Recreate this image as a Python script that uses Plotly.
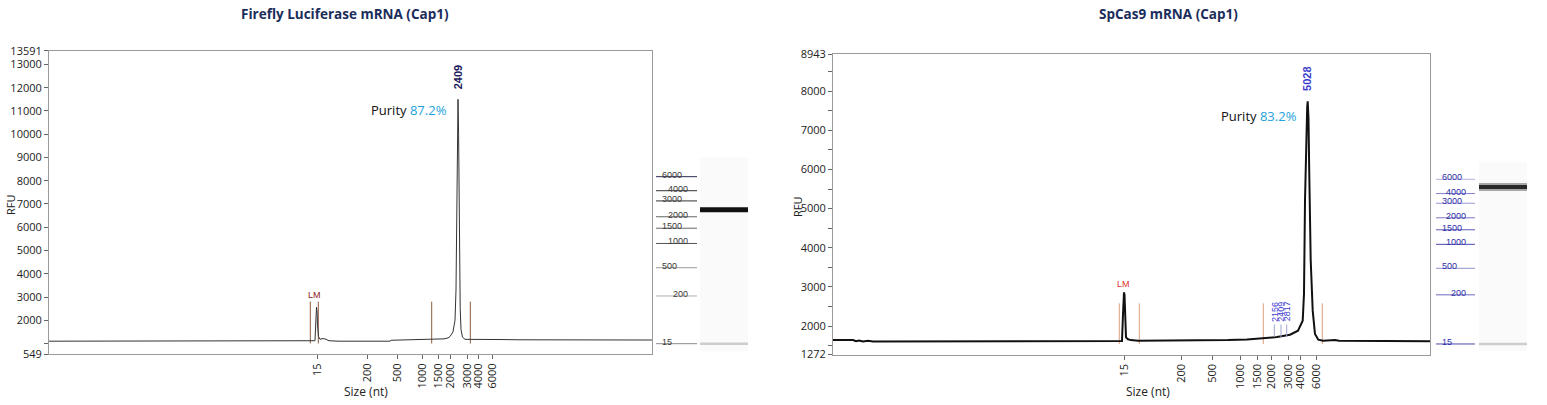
import plotly.graph_objects as go

W, H = 1547, 405

# ---------------- data: Firefly Luciferase mRNA (Cap1) ----------------
fl_title = "Firefly Luciferase mRNA (Cap1)"
fl_ladder_sizes = [15, 200, 500, 1000, 1500, 2000, 3000, 4000, 6000]
fl_ladder_times = [26.87, 31.87, 34.83, 37.37, 38.97, 40.17, 41.83, 42.90, 44.37]
fl_time = [0.0, 26.2, 26.6, 26.7, 26.75, 26.8, 26.85, 26.95, 27.1, 27.3, 27.6, 28.0, 29.0,
           34.1, 34.2, 37.0, 39.0, 39.5, 39.9, 40.1, 40.4, 40.6, 40.7, 40.78, 40.85, 40.9,
           40.96, 41.0, 41.05, 41.12, 41.2, 41.35, 41.6, 42.5, 45.4, 47.0, 60.3]
fl_rfu = [1100, 1100, 1120, 2100, 2560, 2400, 1800, 1300, 1180, 1210, 1200, 1120, 1100,
          1100, 1140, 1170, 1190, 1200, 1240, 1300, 1500, 2000, 3300, 6000, 9500, 11500,
          10000, 7500, 4500, 2500, 1600, 1270, 1180, 1170, 1170, 1160, 1150]
fl_marker_times = [26.13, 26.93, 38.27, 42.13]
fl_peak_label = "2409"
fl_purity = "87.2%"
fl_yticks = [549, 1000, 2000, 3000, 4000, 5000, 6000, 7000, 8000, 9000, 10000, 11000, 12000, 13000, 13591]
fl_ylabels = ["549", "", "2000", "3000", "4000", "5000", "6000", "7000", "8000", "9000",
              "10000", "11000", "12000", "13000", "13591"]

# ---------------- data: SpCas9 mRNA (Cap1) ----------------
cas_title = "SpCas9 mRNA (Cap1)"
cas_ladder_sizes = [15, 200, 500, 1000, 1500, 2000, 3000, 4000, 6000]
cas_ladder_times = [29.13, 34.87, 37.97, 40.77, 42.47, 43.87, 45.57, 46.70, 48.37]
cas_time = [0.0, 2.0, 2.3, 2.6, 3.0, 3.5, 4.0, 10.0, 28.8, 28.9, 29.0, 29.05, 29.1, 29.15,
            29.2, 29.3, 29.5, 29.8, 30.5, 39.2, 39.5, 41.4, 43.0, 44.4, 45.7, 46.5, 46.97,
            47.1, 47.2, 47.3, 47.35, 47.42, 47.47, 47.55, 47.62, 47.7, 47.77, 47.97, 48.2,
            48.53, 49.0, 50.2, 50.6, 59.7]
cas_rfu = [1645, 1640, 1610, 1630, 1605, 1625, 1605, 1605, 1610, 1620, 2300, 2650, 2860, 2800,
           2300, 1710, 1660, 1640, 1622, 1625, 1640, 1655, 1680, 1717, 1777, 1880, 2136,
           2822, 5200, 6800, 7100, 7600, 7744, 7300, 6000, 4600, 3678, 2393, 1795,
           1650, 1625, 1640, 1625, 1610]
cas_marker_times = [28.63, 30.63, 43.03, 48.93]
cas_small_times = [44.13, 44.80, 45.37]
cas_small_labels = ["2156", "2409", "2817"]
cas_peak_label = "5028"
cas_purity = "83.2%"
cas_yticks = [1272, 1500, 2000, 2500, 3000, 3500, 4000, 4500, 5000, 5500, 6000, 6500, 7000, 7500, 8000, 8500, 8943]
cas_ylabels = ["1272", "", "2000", "", "3000", "", "4000", "", "5000", "", "6000", "", "7000", "", "8000", "", "8943"]

# ---------------- styles ----------------
FONT = "Open Sans, Noto Sans, sans-serif"
NARROW = "Liberation Sans Narrow, Liberation Sans, Arial, sans-serif"
fl_ladder_colors = ["#8a8a8a", "#b0b0b0", "#9a9a9a", "#555555", "#666666", "#666666", "#333333", "#333333", "#2a2a50"]
cas_ladder_colors = ["#4a4ab0", "#6a6ac0", "#9090d0", "#4a4ab0", "#5a5ab8", "#7a7ac8", "#9a9ad8", "#8080d0", "#b0b0e0"]


def px(x):
    return x / W


def py(y):
    return 1 - y / H


fig = go.Figure()
annotations = []
shapes = []


def add_panel(n, time, rfu, ltimes, lsizes, markers, mcolor, mrange, xdom, ydom, xrange, yrange,
              yticks, ylabels, line_color, line_width, ladder_dom, lane_dom, gel_range,
              ladder_colors, ladder_label_color, lab_pos, band_color, band_width, band_halo,
              peak_label, peak_label_color, purity, purity_y, lm_color, lm_xy, title, title_x,
              rfu_x, rfu_y, size_x):
    xa, ya = f"x{n}", f"y{n}"
    xl, yl = f"x{n+1}", f"y{n+1}"
    xg, yg = f"x{n+2}", f"y{n+2}"
    # marker lines
    for m in markers:
        fig.add_trace(go.Scatter(x=[m, m], y=mrange, mode="lines", xaxis=xa, yaxis=ya,
                                 line=dict(color=mcolor, width=1), hoverinfo="skip"))
    fig.add_trace(go.Scatter(x=time, y=rfu, mode="lines", xaxis=xa, yaxis=ya,
                             line=dict(color=line_color, width=line_width), hoverinfo="skip"))
    # peak
    imax = max(range(len(rfu)), key=lambda i: rfu[i])
    pt, pv = time[imax], rfu[imax]
    annotations.append(dict(x=pt, y=pv, xref=xa, yref=ya, text=f"<b>{peak_label}</b>", textangle=-90,
                            showarrow=False, yanchor="bottom", xanchor="center", yshift=8,
                            font=dict(family="Liberation Sans, Arial, sans-serif", size=11, color=peak_label_color)))
    annotations.append(dict(x=pt, y=purity_y, xref=xa, yref=ya,
                            text=f"Purity <span style='color:#22a3dc'>{purity}</span>",
                            showarrow=False, xanchor="right", yanchor="middle", xshift=-9,
                            font=dict(family=FONT, size=13, color="#111111")))
    annotations.append(dict(x=lm_xy[0], y=lm_xy[1], xref=xa, yref=ya, text="LM", showarrow=False,
                            xanchor="center", yanchor="bottom",
                            font=dict(family="Liberation Sans, Arial, sans-serif", size=9, color=lm_color)))
    axis_common = dict(showline=True, linecolor="#9a9a9a", linewidth=1, mirror=True, showgrid=False,
                       zeroline=False, ticks="outside", ticklen=4, tickcolor="#666666", automargin=False,
                       tickfont=dict(family=FONT, size=11, color="#222222"))
    fig.layout[f"xaxis{n}"] = dict(domain=[px(xdom[0]), px(xdom[1])], range=xrange, anchor=ya,
                                   tickmode="array", tickvals=ltimes, ticktext=[str(s) for s in lsizes],
                                   tickangle=-90, **axis_common)
    fig.layout[f"yaxis{n}"] = dict(domain=[py(ydom[0]), py(ydom[1])], range=yrange, anchor=xa,
                                   tickmode="array", tickvals=yticks, ticktext=ylabels, **axis_common)
    # ladder panel
    hidden = dict(visible=False, showgrid=False, zeroline=False, automargin=False)
    fig.layout[f"xaxis{n+1}"] = dict(domain=[px(ladder_dom[0]), px(ladder_dom[1])], range=[0, 1], anchor=yl, **hidden)
    fig.layout[f"yaxis{n+1}"] = dict(domain=[py(ydom[0]), py(ydom[1])], range=gel_range, anchor=xl, **hidden)
    fig.layout[f"xaxis{n+2}"] = dict(domain=[px(lane_dom[0]), px(lane_dom[1])], range=[0, 1], anchor=yg, **hidden)
    fig.layout[f"yaxis{n+2}"] = dict(domain=[py(ydom[0]), py(ydom[1])], range=gel_range, anchor=xg, **hidden)
    for i, (t, s) in enumerate(zip(ltimes, lsizes)):
        fig.add_trace(go.Scatter(x=[0, 1], y=[t, t], mode="lines", xaxis=xl, yaxis=yl,
                                 line=dict(color=ladder_colors[i], width=1), hoverinfo="skip"))
        left = i % 2 == 0
        annotations.append(dict(x=lab_pos[0] if left else lab_pos[1], y=t, xref=xl, yref=yl, text=str(s),
                                showarrow=False, xanchor="left" if left else "right", yanchor="middle",
                                yshift=2, font=dict(family=NARROW, size=9, color=ladder_label_color)))
    # gel lane
    shapes.append(dict(type="rect", xref=xg, yref=yg, x0=0, x1=1, y0=ltimes[0] - 0.8, y1=ltimes[-1] + 2.0,
                       fillcolor="#fafafa", line=dict(width=0), layer="below"))
    fig.add_trace(go.Scatter(x=[0, 1], y=[ltimes[0], ltimes[0]], mode="lines", xaxis=xg, yaxis=yg,
                             line=dict(color="#cdcdcd", width=2.5), hoverinfo="skip"))
    if band_halo:
        fig.add_trace(go.Scatter(x=[0, 1], y=[pt, pt], mode="lines", xaxis=xg, yaxis=yg,
                                 line=dict(color=band_halo, width=band_width + 4), hoverinfo="skip"))
    fig.add_trace(go.Scatter(x=[0, 1], y=[pt, pt], mode="lines", xaxis=xg, yaxis=yg,
                             line=dict(color=band_color, width=band_width), hoverinfo="skip"))
    # titles
    annotations.append(dict(x=px(title_x), y=py(14), xref="paper", yref="paper", text=f"<b>{title}</b>",
                            showarrow=False, xanchor="center", yanchor="middle",
                            font=dict(family=FONT, size=13.5, color="#1b2d5b")))
    annotations.append(dict(x=px(rfu_x), y=py(rfu_y), xref="paper", yref="paper", text="RFU", textangle=-90,
                            showarrow=False, xanchor="center", yanchor="middle",
                            font=dict(family=FONT, size=11, color="#222222")))
    annotations.append(dict(x=px(size_x), y=py(391), xref="paper", yref="paper", text="Size (nt)",
                            showarrow=False, xanchor="center", yanchor="middle",
                            font=dict(family=FONT, size=12, color="#222222")))


add_panel(1, fl_time, fl_rfu, fl_ladder_times, fl_ladder_sizes, fl_marker_times, "#8c5a3c", [1000, 2800],
          (49, 652), (354, 50.7), [0, 60.3], [549, 13591], fl_yticks, fl_ylabels, "#333333", 1,
          (656, 697), (700, 748), [25.79, 57.57], fl_ladder_colors, "#3a3a3a", (0.1, 0.83),
          "#111111", 5, None, fl_peak_label, "#1c1c5e", fl_purity, 11030, "#8b1a1a",
          ((fl_marker_times[0] + fl_marker_times[1]) / 2, 2800), fl_title, 345, 10, 205, 366)

add_panel(4, cas_time, cas_rfu, cas_ladder_times, cas_ladder_sizes, cas_marker_times, "#dba27e", [1540, 2580],
          (833, 1430), (354.5, 54.3), [0, 59.7], [1272, 8943], cas_yticks, cas_ylabels, "#111111", 2,
          (1436, 1475), (1479, 1527), [27.90, 62.97], cas_ladder_colors, "#2e2ea6", (0.1, 0.82),
          "#2a2a2a", 4, "#a8a8a8", cas_peak_label, "#3a3acc", cas_purity, 7360, "#e0302a",
          (29.08, 2900), cas_title, 1168, 798, 207, 1148)

# small peak labels on the SpCas9 trace
for t, lab in zip(cas_small_times, cas_small_labels):
    fig.add_trace(go.Scatter(x=[t, t], y=[1720, 2040], mode="lines", xaxis="x4", yaxis="y4",
                             line=dict(color="#a0a4cc", width=1), hoverinfo="skip"))
    annotations.append(dict(x=t, y=2060, xref="x4", yref="y4", text=lab, textangle=-90, showarrow=False,
                            xanchor="center", yanchor="bottom",
                            font=dict(family=NARROW, size=9, color="#4040d0")))

fig.update_layout(width=W, height=H, margin=dict(l=0, r=0, t=0, b=0, pad=0, autoexpand=False), showlegend=False,
                  plot_bgcolor="white", paper_bgcolor="white", hovermode=False,
                  annotations=annotations, shapes=shapes)

fig.write_html("out.html", config={"displayModeBar": False},
               post_script="document.body.style.margin='0';document.body.style.overflow='hidden';")
